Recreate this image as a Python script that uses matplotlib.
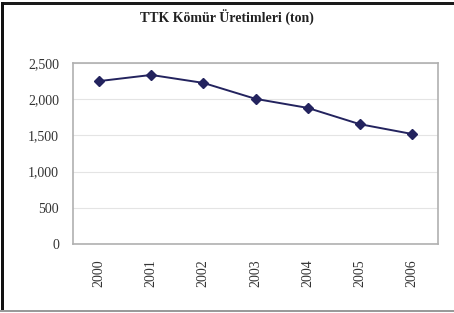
import matplotlib
matplotlib.use("Agg")
import matplotlib.pyplot as plt
from matplotlib.patches import Rectangle

years = ["2000", "2001", "2002", "2003", "2004", "2005", "2006"]
production = [2250, 2335, 2225, 2005, 1880, 1655, 1520]
y_ticks = [0, 500, 1000, 1500, 2000, 2500]
y_labels = ["0", "500", "1,000", "1,500", "2,000", "2,500"]

plt.rcParams["font.family"] = ["Liberation Serif", "DejaVu Serif"]

fig = plt.figure(figsize=(4.54, 3.13), dpi=100, facecolor="white")
ax = fig.add_axes([73 / 454, 1 - 244 / 313, 365 / 454, 181 / 313])

x = list(range(len(years)))
ax.plot(x, production, color="#23235e", linewidth=1.4, marker="D",
        markersize=5, markerfacecolor="#23235e", markeredgecolor="#23235e")

ax.set_xlim(-0.5, len(years) - 0.5)
ax.set_ylim(0, 2500)
ax.set_xticks(x)
ax.set_xticklabels(years, rotation=90, fontsize=10, color="#333333")
ax.set_yticks(y_ticks)
ax.set_yticklabels(y_labels, fontsize=10, color="#333333")
ax.tick_params(axis="y", length=0, pad=10)
ax.tick_params(axis="x", length=0, pad=11)
ax.grid(axis="y", color="#e4e4e4", linewidth=0.8)
ax.set_axisbelow(True)
for s in ax.spines.values():
    s.set_color("#b0b0b0")
    s.set_linewidth(1.2)

fig.text(0.5, 1 - 18 / 313, "TTK Kömür Üretimleri (ton)", ha="center", va="center",
         fontsize=10, fontweight="bold", color="#222222")

# frame: dark top and left edge, grey bottom edge (pixel rectangles)
W, H = 454, 313
def band(x0, y0, w, h, color):
    fig.add_artist(Rectangle((x0 / W, 1 - (y0 + h) / H), w / W, h / H,
                             transform=fig.transFigure, facecolor=color,
                             edgecolor="none"))

band(1, 2, 453, 3, "#1a1a1a")
band(1, 2, 3, 308, "#111111")
band(0, 310, 454, 2, "#9a9a9a")

fig.savefig("out.png", dpi=100)
